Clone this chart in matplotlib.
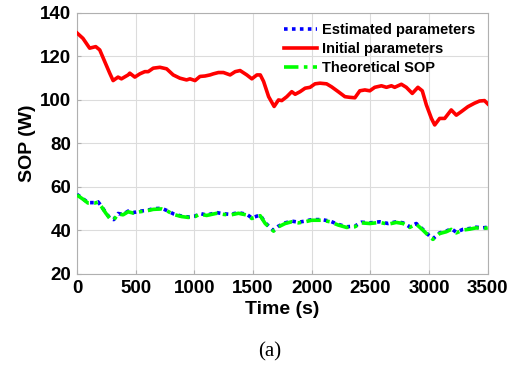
import matplotlib
matplotlib.use("Agg")
import matplotlib.pyplot as plt
import numpy as np

t_init = [0, 51, 108, 160, 194, 236, 279, 308, 350, 379, 436, 450, 493, 536, 578, 607, 650, 707, 764, 820,
          877, 934, 963, 1006, 1048, 1091, 1134, 1162, 1205, 1248, 1305, 1348, 1390, 1447, 1490, 1533, 1562,
          1590, 1633, 1680, 1717, 1745, 1788, 1830, 1859, 1901, 1944, 1986, 2028, 2071, 2127, 2170, 2226,
          2283, 2325, 2368, 2410, 2453, 2495, 2537, 2594, 2637, 2679, 2707, 2764, 2806, 2857, 2905, 2942,
          2977, 3020, 3048, 3090, 3133, 3189, 3232, 3274, 3331, 3387, 3430, 3472, 3500]
sop_init = [130.8, 128.3, 123.8, 124.5, 123.0, 117.7, 112.3, 108.9, 110.5, 109.7, 111.5, 112.3, 110.5, 112.0,
            113.0, 113.0, 114.6, 115.0, 114.3, 111.5, 110.0, 109.2, 109.7, 108.9, 110.8, 111.0, 111.5, 112.0,
            112.6, 112.6, 111.5, 113.0, 113.5, 111.5, 109.7, 111.5, 111.5, 108.5, 101.5, 97.0, 100.0, 99.7,
            101.5, 103.8, 102.6, 103.8, 105.4, 105.8, 107.4, 107.7, 107.4, 106.0, 103.8, 101.5, 101.2, 101.0,
            104.2, 104.6, 104.2, 105.8, 106.5, 105.8, 106.5, 105.8, 107.2, 105.8, 103.0, 105.8, 104.2, 97.7,
            91.5, 88.5, 91.5, 91.5, 95.4, 93.0, 94.6, 96.9, 98.5, 99.5, 99.7, 98.2]

t_low = [0, 51, 94, 151, 179, 208, 245, 279, 313, 350, 393, 436, 479, 536, 593, 650, 721, 778, 820, 891,
         948, 1006, 1048, 1105, 1191, 1248, 1305, 1376, 1447, 1490, 1561, 1604, 1675, 1717, 1774, 1830,
         1887, 1944, 2000, 2085, 2156, 2226, 2297, 2368, 2424, 2495, 2580, 2651, 2721, 2778, 2834, 2891,
         2947, 2990, 3033, 3090, 3146, 3189, 3232, 3288, 3345, 3401, 3458, 3500]
sop_theo = [56.3, 54.4, 52.6, 52.6, 53.0, 51.0, 48.0, 45.6, 44.8, 47.6, 47.2, 48.6, 48.0, 48.6, 49.0, 49.7,
            49.9, 48.7, 47.4, 46.4, 46.0, 46.4, 47.5, 46.9, 47.9, 47.4, 47.1, 47.9, 47.1, 45.5, 46.8, 43.2,
            39.7, 41.7, 43.2, 44.0, 43.5, 44.0, 44.7, 44.7, 44.0, 42.5, 41.4, 41.7, 43.5, 43.2, 43.7, 42.9,
            43.7, 43.2, 41.4, 42.9, 40.2, 37.9, 35.9, 38.6, 39.4, 40.5, 38.9, 40.2, 40.6, 41.2, 40.9, 41.2]
sop_est = [56.6, 54.6, 52.8, 52.8, 53.2, 51.2, 48.2, 45.8, 45.0, 47.8, 47.4, 48.9, 48.2, 48.9, 49.2, 50.0,
           50.2, 48.9, 47.7, 46.6, 46.2, 46.6, 47.8, 47.1, 48.2, 47.7, 47.4, 48.2, 47.4, 45.8, 47.1, 43.5,
           40.0, 42.0, 43.5, 44.3, 43.8, 44.3, 45.0, 45.0, 44.3, 42.8, 41.7, 42.0, 43.8, 43.5, 44.0, 43.2,
           44.0, 43.5, 41.7, 43.2, 40.5, 38.2, 36.2, 38.9, 39.7, 40.8, 39.2, 40.5, 40.9, 41.5, 41.2, 41.5]

x_ticks = [0, 500, 1000, 1500, 2000, 2500, 3000, 3500]
y_ticks = [20, 40, 60, 80, 100, 120, 140]

plt.rcParams['font.family'] = ['Liberation Sans', 'DejaVu Sans']

fig = plt.figure(figsize=(5.2, 3.69), dpi=100)
ax = fig.add_axes([0.148, 0.2575, 0.790, 0.7075])

ax.plot(t_low, sop_est, color='#0000ff', linestyle=(0, (1, 1.2)), linewidth=2.6, label='Estimated parameters', zorder=3)
ax.plot(t_init, sop_init, color='#ff0000', linestyle='-', linewidth=2.6, label='Initial parameters', zorder=3)
ax.plot(t_low, sop_theo, color='#00ff00', linestyle=(0, (4, 1.5, 1, 1.5)), linewidth=2.6, label='Theoretical SOP', zorder=3)

ax.set_xlim(0, 3500)
ax.set_ylim(20, 140)
ax.set_xticks(x_ticks)
ax.set_yticks(y_ticks)
ax.grid(True, color='#dcdcdc', linewidth=0.8)
for s in ax.spines.values():
    s.set_color('#b0b0b0')
    s.set_linewidth(0.8)
ax.tick_params(direction='in', length=3, color='#b0b0b0', labelsize=13.5, pad=4)
for lab in ax.get_xticklabels() + ax.get_yticklabels():
    lab.set_fontweight('bold')

ax.set_xlabel('Time (s)', fontsize=14, fontweight='bold', labelpad=3)
ax.set_ylabel('SOP (W)', fontsize=14, fontweight='bold', labelpad=3)

leg = ax.legend(loc='upper right', frameon=False, prop={'weight': 'bold', 'size': 10.5},
                handlelength=2.2, handletextpad=0.35, labelspacing=0.35,
                bbox_to_anchor=(0.99, 0.995), borderaxespad=0.2)

fig.text(0.519, 0.047, '(a)', fontsize=15, family=['Liberation Serif'], ha='center', va='center')

fig.savefig('out.png', dpi=100)
